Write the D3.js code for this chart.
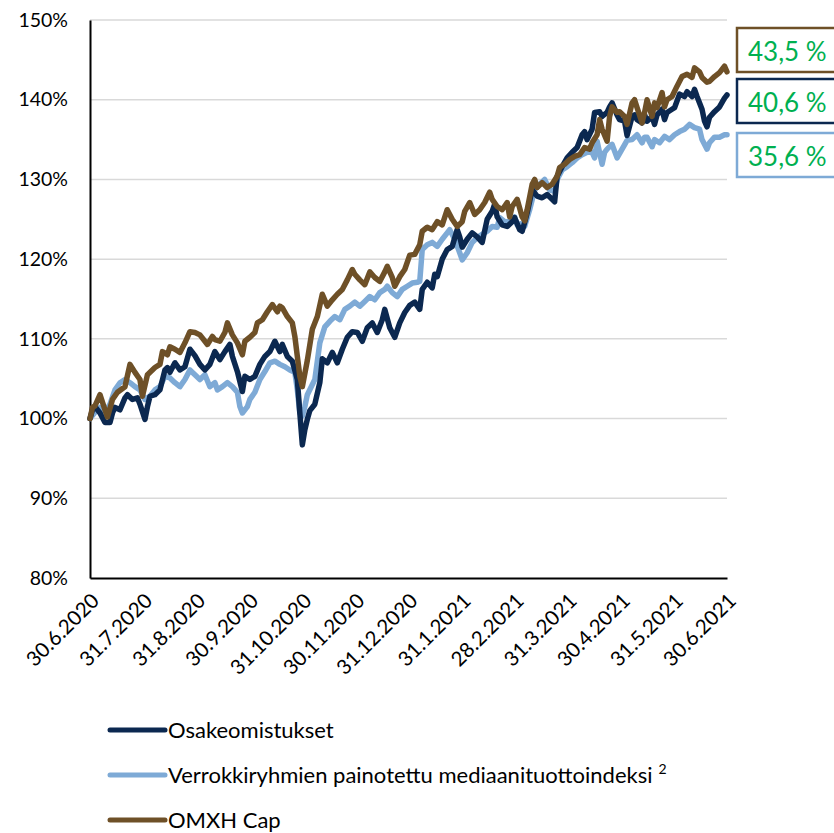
<!DOCTYPE html>
<html>
<head>
<meta charset="utf-8">
<script src="https://cdn.jsdelivr.net/npm/d3@7"></script>
<style>
  html, body { margin: 0; padding: 0; background: #fff; }
  svg { display: block; font-family: Lato, "Open Sans", sans-serif; }
</style>
</head>
<body>
<svg id="chart" width="834" height="833"></svg>
<script>
// ---- data (trading-day index, value in %) ----
const xTickLabels = ["30.6.2020","31.7.2020","31.8.2020","30.9.2020","31.10.2020","30.11.2020","31.12.2020","31.1.2021","28.2.2021","31.3.2021","30.4.2021","31.5.2021","30.6.2021"];
const yTicks = [80, 90, 100, 110, 120, 130, 140, 150];
const seriesNames = ["Osakeomistukset", "Verrokkiryhmien painotettu mediaanituottoindeksi", "OMXH Cap"];
const endLabels = ["40,6 %", "35,6 %", "43,5 %"];

const osakeomistukset = [
 [0,100.0],[1,101.1],[2,101.5],[4,100.7],[6,99.5],[8,99.5],[9,100.7],[10,101.4],[12,101.1],[14,102.6],[15,103.0],[17,102.4],[19,102.6],[20,101.8],[22,99.9],[23,101.5],[24,102.8],[26,103.0],[28,103.6],[30,106.1],[31,106.4],[32,105.8],[34,107.0],[36,106.1],[38,106.5],[40,108.7],[42,107.9],[44,106.8],[46,106.1],[48,106.8],[50,108.4],[52,107.4],[54,108.4],[56,109.3],[57,107.8],[59,105.9],[61,103.4],[62,105.3],[64,104.9],[66,105.3],[68,106.8],[70,107.8],[72,108.4],[74,109.7],[76,108.4],[77,109.3],[79,107.8],[81,107.2],[83,104.9],[84,100.7],[85,96.7],[86,98.6],[87,99.9],[88,101.0],[90,101.8],[92,104.5],[93,107.5],[95,107.0],[97,108.3],[99,107.0],[101,108.7],[103,110.2],[105,110.9],[107,110.8],[109,109.7],[111,111.4],[113,112.0],[115,110.8],[117,112.4],[118,113.7],[120,111.4],[122,110.2],[124,112.0],[126,113.3],[128,114.2],[130,114.6],[132,113.7],[133,116.2],[135,117.1],[137,116.4],[138,118.1],[139,117.8],[141,120.0],[143,121.2],[145,121.6],[147,123.7],[148,122.8],[149,121.5],[151,122.5],[153,123.3],[155,122.8],[157,122.1],[159,125.0],[161,126.0],[162,126.9],[163,125.3],[165,124.3],[167,124.1],[169,124.7],[170,125.2],[172,123.7],[173,123.5],[174,124.6],[175,125.8],[177,128.7],[179,127.9],[181,127.7],[183,128.1],[185,127.5],[186,127.2],[187,130.4],[189,131.6],[191,132.7],[193,133.4],[195,134.0],[197,135.6],[198,136.0],[199,135.0],[201,136.3],[202,138.4],[204,138.5],[205,137.9],[207,138.4],[208,139.1],[209,139.6],[211,138.1],[212,137.5],[214,137.3],[215,135.5],[217,137.9],[218,138.1],[219,137.5],[221,137.1],[222,138.1],[223,137.3],[225,137.9],[226,136.9],[227,138.1],[229,138.8],[230,137.5],[231,138.4],[233,138.8],[234,139.0],[236,140.7],[238,140.4],[239,141.0],[241,140.4],[242,141.3],[243,140.4],[245,138.8],[246,137.3],[247,136.6],[248,137.8],[250,138.5],[252,139.1],[254,140.2],[255,140.6]
];

const verrokki = [
 [0,100.0],[2,100.8],[4,101.4],[6,100.8],[8,101.8],[10,103.6],[12,104.5],[14,104.9],[16,104.5],[18,104.0],[20,103.6],[22,102.4],[24,102.8],[26,103.6],[28,104.0],[30,105.3],[32,105.1],[34,104.5],[36,104.0],[38,104.9],[40,106.1],[42,105.5],[44,104.9],[46,105.5],[48,104.0],[50,104.5],[51,103.6],[53,104.0],[55,104.5],[57,104.0],[59,103.3],[60,101.5],[61,100.7],[63,101.5],[64,102.4],[66,103.3],[68,104.9],[70,105.9],[72,107.0],[74,107.2],[76,106.8],[78,106.5],[80,106.1],[82,105.8],[83,103.6],[84,100.7],[85,100.3],[86,101.5],[87,103.0],[90,104.9],[92,109.5],[94,111.5],[96,112.2],[98,112.8],[100,112.4],[102,113.7],[104,114.1],[106,114.6],[108,114.1],[110,114.7],[112,115.3],[114,114.9],[116,115.8],[118,116.2],[119,116.6],[121,115.8],[123,115.3],[125,116.2],[127,116.6],[129,117.0],[131,117.1],[132,117.2],[133,121.2],[135,121.8],[137,122.1],[139,121.6],[141,122.5],[143,123.3],[144,123.7],[146,122.5],[148,120.8],[149,119.9],[151,120.8],[153,122.1],[155,122.7],[157,123.1],[159,123.5],[161,124.1],[163,124.0],[164,125.2],[166,124.7],[168,124.7],[170,125.3],[171,124.3],[173,124.5],[174,124.1],[176,126.2],[178,128.7],[180,129.4],[182,130.0],[184,128.7],[186,128.5],[187,130.0],[189,131.2],[191,131.6],[193,132.1],[195,132.7],[197,133.1],[199,133.4],[201,133.4],[202,132.7],[203,134.8],[205,131.9],[206,133.4],[207,133.8],[209,134.4],[211,132.7],[213,133.8],[215,134.9],[217,135.0],[219,135.6],[221,134.6],[222,135.3],[223,135.3],[225,134.1],[226,135.0],[228,134.6],[230,135.4],[232,135.0],[234,135.6],[236,136.0],[238,136.3],[240,136.9],[242,136.5],[244,136.3],[245,135.0],[247,133.8],[248,134.6],[250,135.3],[252,135.3],[254,135.6],[255,135.6]
];

const omxhCap = [
 [0,100.0],[1,101.4],[2,101.6],[4,103.0],[6,101.1],[7,100.2],[9,102.4],[11,103.3],[14,104.0],[16,106.8],[18,105.8],[20,104.9],[21,102.8],[23,105.5],[26,106.4],[28,106.8],[29,108.4],[31,108.0],[32,109.0],[34,108.7],[36,108.3],[38,109.5],[40,110.9],[42,110.8],[44,110.5],[46,109.7],[47,109.3],[49,110.3],[50,109.9],[52,109.7],[54,110.8],[55,112.0],[57,110.5],[59,109.5],[61,108.0],[62,109.7],[64,110.2],[66,110.8],[67,112.0],[69,112.4],[71,113.4],[73,114.3],[75,113.4],[76,114.1],[77,113.9],[79,112.8],[81,112.0],[82,110.3],[83,107.8],[84,105.3],[85,104.0],[87,107.3],[89,111.2],[91,112.8],[93,115.6],[95,114.1],[97,114.9],[99,115.6],[101,116.2],[103,117.4],[105,118.7],[106,118.1],[108,117.4],[110,116.8],[112,118.4],[114,117.7],[116,117.2],[118,118.4],[119,119.1],[121,117.7],[122,116.6],[124,117.8],[126,118.7],[128,120.5],[130,120.6],[132,121.8],[133,123.5],[135,124.0],[137,123.7],[139,124.7],[141,124.3],[143,126.2],[145,125.0],[147,124.1],[149,124.7],[150,126.0],[152,127.1],[154,125.6],[156,126.2],[158,127.1],[160,128.4],[161,127.5],[163,126.6],[165,126.2],[167,127.1],[168,125.3],[169,126.6],[171,127.5],[173,125.3],[174,124.8],[175,126.2],[177,129.4],[178,130.0],[179,129.0],[181,129.6],[183,129.0],[185,129.4],[187,130.4],[188,131.5],[190,131.9],[192,132.5],[194,132.9],[196,133.1],[198,134.0],[200,133.8],[201,134.6],[203,135.6],[204,137.5],[205,136.3],[207,134.8],[208,137.9],[209,139.1],[211,138.4],[212,138.5],[214,137.9],[215,136.9],[217,139.6],[218,140.0],[219,139.0],[221,137.1],[222,138.4],[223,140.0],[225,137.9],[226,139.6],[227,139.0],[229,140.9],[230,139.1],[231,140.0],[233,140.4],[235,141.7],[237,142.9],[239,143.2],[241,142.8],[242,144.0],[244,143.5],[245,142.8],[247,142.2],[248,142.3],[250,142.9],[252,143.4],[254,144.2],[255,143.5]
];

const colors = ["#0B2850", "#7EAAD6", "#6E5027"];

// ---- layout ----
const svg = d3.select("#chart");
const plotLeft = 90, plotRight = 727, plotTop = 20, plotBottom = 578;
const x = d3.scaleLinear().domain([0, 255]).range([plotLeft, plotRight]);
const y = d3.scaleLinear().domain([80, 150]).range([plotBottom, plotTop]);

// gridlines
svg.append("g").selectAll("line").data(yTicks.filter(d => d > 80)).join("line")
  .attr("x1", plotLeft).attr("x2", plotRight)
  .attr("y1", d => y(d)).attr("y2", d => y(d))
  .attr("stroke", "#d9d9d9").attr("stroke-width", 1.5);

// y axis
const yAxis = d3.axisLeft(y).tickValues(yTicks).tickSize(0).tickPadding(22)
  .tickFormat(d => d + "%");
const gy = svg.append("g").attr("transform", `translate(${plotLeft},0)`).call(yAxis);
gy.select(".domain").attr("stroke", "#000").attr("stroke-width", 2);
gy.selectAll("text").attr("font-size", 19.5).attr("fill", "#000")
  .style("font-family", "Lato, sans-serif");

// x axis
const xTickVals = xTickLabels.map((d, i) => i * 255 / 12);
const xAxis = d3.axisBottom(x).tickValues(xTickVals).tickSize(0)
  .tickFormat((d, i) => xTickLabels[i]);
const gx = svg.append("g").attr("transform", `translate(0,${plotBottom})`).call(xAxis);
gx.select(".domain").attr("stroke", "#000").attr("stroke-width", 2);
gx.selectAll("text")
  .attr("font-size", 20.5).attr("fill", "#000")
  .style("font-family", "Lato, sans-serif")
  .attr("text-anchor", "end")
  .attr("dy", null).attr("y", 0)
  .attr("transform", "translate(10,24) rotate(-45)");

// lines
const line = d3.line().x(d => x(d[0])).y(d => y(d[1]));
const allSeries = [verrokki, osakeomistukset, omxhCap];
const allColors = [colors[1], colors[0], colors[2]];
svg.append("g").selectAll("path").data(allSeries).join("path")
  .attr("d", line)
  .attr("fill", "none")
  .attr("stroke", (d, i) => allColors[i])
  .attr("stroke-width", 5.5)
  .attr("stroke-linejoin", "round")
  .attr("stroke-linecap", "round");

// end-value boxes
const boxes = [
  { label: endLabels[2], color: colors[2], y0: 28 },
  { label: endLabels[0], color: colors[0], y0: 79 },
  { label: endLabels[1], color: colors[1], y0: 133 }
];
const bg = svg.append("g");
bg.selectAll("rect").data(boxes).join("rect")
  .attr("x", 737).attr("y", d => d.y0).attr("width", 110).attr("height", 44)
  .attr("fill", "#fff").attr("stroke", d => d.color).attr("stroke-width", 2.5);
bg.selectAll("text").data(boxes).join("text")
  .attr("x", 748).attr("y", d => d.y0 + 33)
  .attr("font-size", 26).attr("fill", "#00B050")
  .text(d => d.label);

// legend
const legend = svg.append("g");
const legY = [730, 775, 820];
seriesNames.forEach((name, i) => {
  legend.append("line")
    .attr("x1", 110).attr("x2", 165).attr("y1", legY[i]).attr("y2", legY[i])
    .attr("stroke", colors[i]).attr("stroke-width", 5).attr("stroke-linecap", "round");
  const t = legend.append("text")
    .attr("x", 168).attr("y", legY[i] + 8)
    .attr("font-size", 22).attr("fill", "#000")
    .text(name);
  if (i === 1) {
    t.append("tspan").attr("font-size", 14).attr("dx", 6).attr("dy", -9).text("2");
  }
});
</script>
</body>
</html>
